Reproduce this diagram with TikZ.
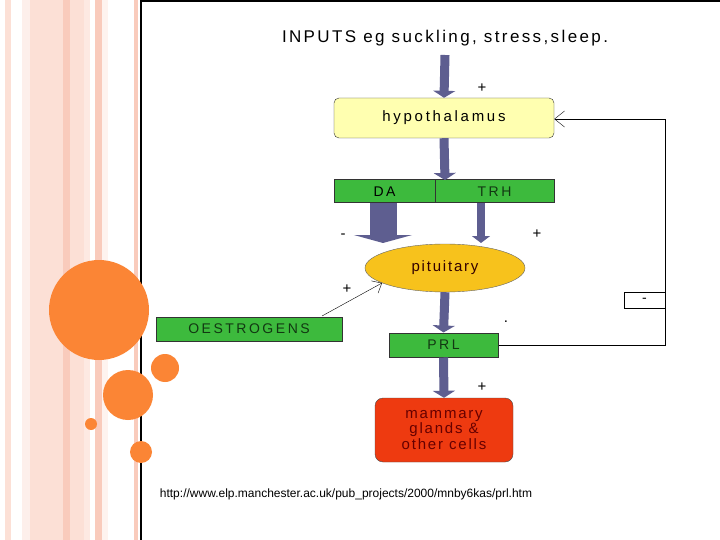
\documentclass[tikz,border=0pt]{standalone}
\usepackage{fontspec}
\setmainfont{Liberation Sans}
\usetikzlibrary{arrows.meta,shapes.geometric}
\definecolor{stripe}{HTML}{FCE0D6}
\definecolor{stripeB}{HTML}{F9CBBC}
\definecolor{org}{HTML}{FB8535}
\definecolor{gbox}{HTML}{3DBA3D}
\definecolor{ybox}{HTML}{FFFFB0}
\definecolor{pit}{HTML}{F7C21C}
\definecolor{rbox}{HTML}{EE3A10}
\definecolor{arr}{HTML}{5E5E90}
\tikzset{
  big/.style={line width=9pt, draw=arr, -{Triangle[length=7pt,width=22pt]}},
  thick arr/.style={line width=27pt, draw=arr, -{Triangle[length=8pt,width=58pt]}},
  thin arr/.style={line width=8pt, draw=arr, -{Triangle[length=7pt,width=18pt]}},
  green/.style={draw=black!80, fill=gbox, line width=1pt, font=\fontsize{14}{15}\selectfont\addfontfeature{LetterSpace=18}},
  sign/.style={font=\fontsize{15}{16}\selectfont},
  orb/.style={fill=org}
}
\begin{document}
\begin{tikzpicture}[x=1pt,y=-1pt]
\useasboundingbox (0,0) rectangle (720,540);
\fill[white] (0,0) rectangle (720,540);
% stripes
\fill[stripe] (5,0) rectangle (11,540);
\fill[stripe!50] (22,0) rectangle (30,540);
\fill[stripe] (30,0) rectangle (63,540);
\fill[stripeB] (63,0) rectangle (70,540);
\fill[stripe] (70,0) rectangle (84,540);
\fill[stripe!70] (84,0) rectangle (90,540);
\fill[stripeB] (95,0) rectangle (102,540);
\fill[stripe!40] (102,0) rectangle (108,540);
\fill[stripeB] (134,0) rectangle (138,540);
% frame
\draw[line width=2.5pt] (141,0) -- (141,540);
\draw[line width=1.5pt] (141,1) -- (720,1);
% circles
\fill[orb] (99,310) circle (50);
\fill[orb] (165,368) circle (14);
\fill[orb] (128,395) circle (25);
\fill[orb] (91,424) circle (6);
\fill[orb] (141,452) circle (11);
% texts and nodes
\node[font=\fontsize{17}{18}\selectfont\addfontfeature{LetterSpace=14}] (in) at (445,38) {INPUTS eg suckling, stress,sleep.};
\node[draw=black!80, fill=ybox, rounded corners=5pt, minimum width=220pt, minimum height=40pt, font=\fontsize{15}{16}\selectfont\addfontfeature{LetterSpace=18}] (hyp) at (444,118) {hypothalamus};
\node[green, minimum width=101pt, minimum height=23pt, inner sep=0pt] (da) at (384.5,191.5) {DA};
\node[green, minimum width=119pt, minimum height=23pt, inner sep=0pt, text=black!70!gbox] (trh) at (494.5,191.5) {TRH};
\node[draw=black!60, fill=pit, ellipse, minimum width=160pt, minimum height=48pt, inner sep=0pt, font=\fontsize{15}{16}\selectfont\addfontfeature{LetterSpace=12}, text=black!80!red] (pit) at (445,268) {pituitary};
\node[green, minimum width=186pt, minimum height=24pt, inner sep=0pt, text=black!70!gbox] (oes) at (249,329) {OESTROGENS};
\node[green, minimum width=109pt, minimum height=24pt, inner sep=0pt, text=black!70!gbox] (prl) at (443.5,345) {PRL};
\node[draw=black!70, fill=rbox, rounded corners=8pt, minimum width=138pt, minimum height=64pt, align=center, text=black!60!red, font=\fontsize{15}{15.5}\selectfont\addfontfeature{LetterSpace=12}] (mam) at (444,430) {mammary\\glands \&\\other cells};
\node[draw=black, minimum width=41pt, minimum height=16pt, inner sep=0pt, fill=white, font=\fontsize{14}{15}\selectfont] (minus) at (644.5,300) {-};
\coordinate (c1) at (665,345);
\coordinate (c2) at (665,119);
% arrows
\draw[big] (445,55) -- (hyp.north);
\draw[big] (hyp.south) -- (445,180);
\draw[thick arr] (383,203) -- (383,243);
\draw[thin arr] (481,203) -- (481,243);
\draw[big] (pit.south) -- (prl.north);
\draw[big] (prl.south) -- (mam.north);
\draw[-{Straight Barb[length=8pt,width=14pt]}] (322,316) -- (382,283);
\draw[-{Straight Barb[length=10pt,width=16pt]}] (prl.east) -- (c1) -- (c2) -- (hyp.east |- c2);
% signs
\node[sign] at (482,88) {+};
\node[sign] at (343,236) {-};
\node[sign] at (537,234) {+};
\node[sign] at (347,289) {+};
\node[sign] at (506,322) {.};
\node[sign] at (482,387) {+};
\node[font=\fontsize{12}{13}\selectfont] at (346,494) {http://www.elp.manchester.ac.uk/pub\_projects/2000/mnby6kas/prl.htm};
\end{tikzpicture}
\end{document}
